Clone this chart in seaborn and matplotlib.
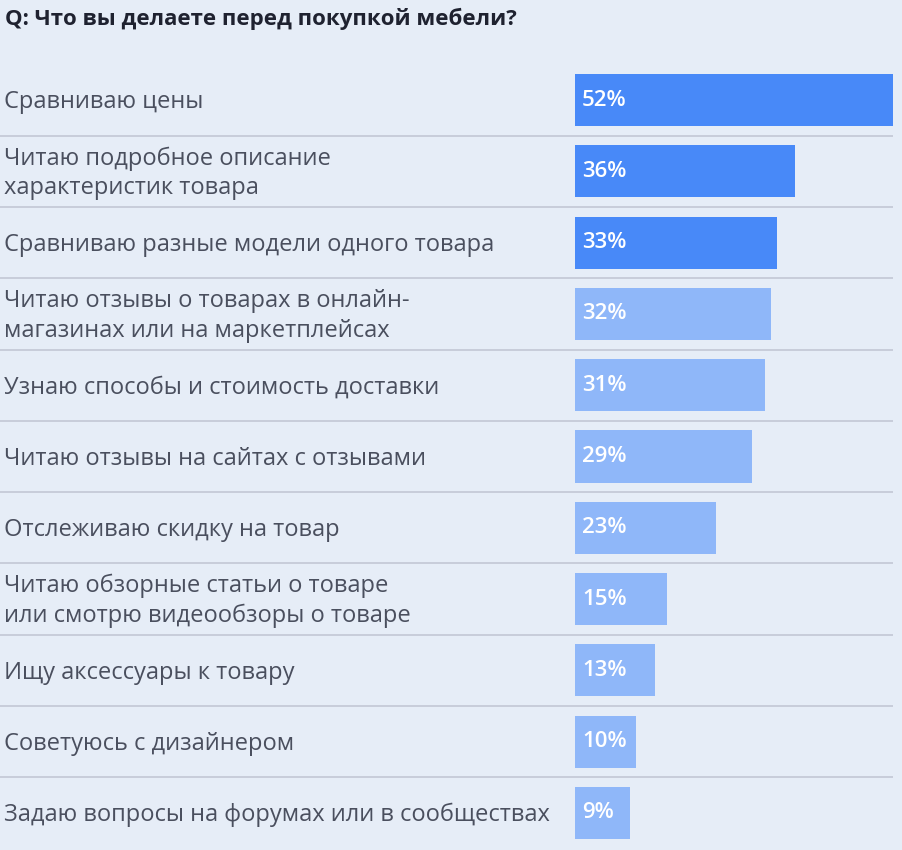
import matplotlib
matplotlib.use("Agg")
import matplotlib.pyplot as plt
import matplotlib.transforms as mtransforms
import seaborn as sns
import pandas as pd

# data
labels = [
    "Сравниваю цены",
    "Читаю подробное описание\nхарактеристик товара",
    "Сравниваю разные модели одного товара",
    "Читаю отзывы о товарах в онлайн-\nмагазинах или на маркетплейсах",
    "Узнаю способы и стоимость доставки",
    "Читаю отзывы на сайтах с отзывами",
    "Отслеживаю скидку на товар",
    "Читаю обзорные статьи о товаре\nили смотрю видеообзоры о товаре",
    "Ищу аксессуары к товару",
    "Советуюсь с дизайнером",
    "Задаю вопросы на форумах или в сообществах",
]
values = [52, 36, 33, 32, 31, 29, 23, 15, 13, 10, 9]
groups = ["top"] * 3 + ["rest"] * 8
title = "Q: Что вы делаете перед покупкой мебели?"

BG = "#e6edf7"
DARK = "#4889f8"
LIGHT = "#8fb7f9"
SEP = "#c8cdda"
TXT = "#4a4f5e"

sns.set_theme(style="white")
plt.rcParams["font.family"] = ["Open Sans", "DejaVu Sans"]

W, H = 902, 850
fig = plt.figure(figsize=(W / 100, H / 100), dpi=100, facecolor=BG)

# axes for bars: x from 575px to 893px, rows 71.3px tall starting at y=64px
pitch = 71.3
top_px = 100 - pitch / 2
bot_px = top_px + pitch * len(values)
ax = fig.add_axes([575 / W, 1 - bot_px / H, (893 - 575) / W, (bot_px - top_px) / H])
ax.set_facecolor(BG)

df = pd.DataFrame({"label": labels, "value": values, "group": groups})
sns.barplot(data=df, x="value", y="label", hue="group", orient="h",
            palette={"top": DARK, "rest": LIGHT}, width=0.73, dodge=False,
            legend=False, saturation=1, linewidth=0, ax=ax)

ax.set_xlim(0, 52)
ax.set_ylim(len(values) - 0.5, -0.5)
ax.set_xticks([])
ax.set_yticks([])
ax.set_xlabel("")
ax.set_ylabel("")
for s in ax.spines.values():
    s.set_visible(False)

trans = mtransforms.blended_transform_factory(fig.transFigure, ax.transData)
for i, (lab, v) in enumerate(zip(labels, values)):
    ax.text(4 / W, i + 0.03, lab, transform=trans, ha="left", va="center",
            fontsize=17, color=TXT, linespacing=1.3)
    ax.text(7 / (893 - 575) * 52, i, f"{v}%", ha="left", va="center",
            fontsize=16, color="white", fontweight="semibold")
    if i < len(values) - 1:
        ax.hlines(i + 0.5, 0, 893 / W, transform=trans, color=SEP,
                  linewidth=1.4, clip_on=False)

fig.text(5 / W, 1 - 19 / H, title, ha="left", va="center", fontsize=16,
         fontweight="bold", color="#1f2230")

fig.savefig("out.png", dpi=100, facecolor=BG)
